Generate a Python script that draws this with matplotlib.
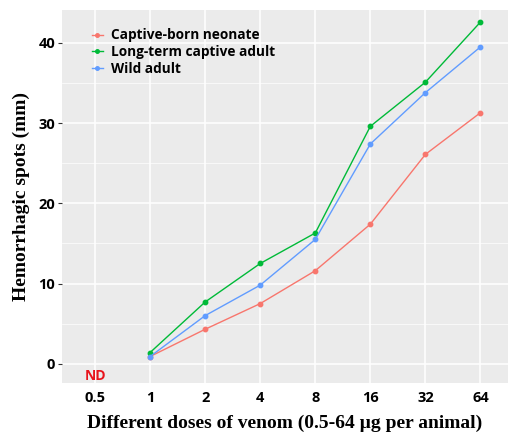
import matplotlib
matplotlib.use("Agg")
import matplotlib.pyplot as plt
from matplotlib.ticker import MultipleLocator

doses = ["0.5", "1", "2", "4", "8", "16", "32", "64"]
dose_idx_present = [1, 2, 3, 4, 5, 6, 7]  # 0.5 not detected
neonate = [0.9, 4.3, 7.5, 11.6, 17.4, 26.1, 31.3]
longterm = [1.4, 7.7, 12.5, 16.3, 29.6, 35.1, 42.6]
wild = [0.9, 6.0, 9.8, 15.5, 27.4, 33.8, 39.5]
series_names = ["Captive-born neonate", "Long-term captive adult", "Wild adult"]
colors = ["#F8766D", "#00BA38", "#619CFF"]

fig = plt.figure(figsize=(5.09, 4.36), dpi=100)
ax = fig.add_axes([62/509, 1-383/436, 446/509, 373/436])
ax.set_facecolor("#EBEBEB")

for vals, name, c in zip([neonate, longterm, wild], series_names, colors):
    ax.plot(dose_idx_present, vals, color=c, lw=1.0, marker="o", ms=3.2, label=name)

ax.set_xlim(-0.6, 7.5)
ax.set_ylim(-2.4, 44.1)
ax.set_xticks(range(len(doses)))
ax.set_xticklabels(doses)
ax.yaxis.set_major_locator(MultipleLocator(10))
ax.yaxis.set_minor_locator(MultipleLocator(5))
ax.grid(which="major", color="white", lw=1.1)
ax.grid(which="minor", axis="y", color="white", lw=0.5)
ax.set_axisbelow(True)
for s in ax.spines.values():
    s.set_visible(False)
ax.tick_params(axis="both", which="major", length=3, color="#333333", labelsize=10.5, pad=2)
ax.tick_params(axis="y", which="minor", length=0)
ax.tick_params(axis="x", length=0, pad=6)
for lab in ax.get_xticklabels() + ax.get_yticklabels():
    lab.set_fontweight("bold")
    lab.set_fontfamily("Open Sans")

ax.text(0, -1.55, "ND", color="#E8141C", fontsize=10, fontweight="bold",
        ha="center", va="center", family="Open Sans")

ax.set_xlabel("Different doses of venom (0.5-64 \u00b5g per animal)", family="Liberation Serif",
              fontweight="bold", fontsize=14, labelpad=7)
ax.set_ylabel("Hemorrhagic spots (mm)", family="Liberation Serif",
              fontweight="bold", fontsize=14, labelpad=6)

leg = ax.legend(loc="upper left", bbox_to_anchor=(0.055, 0.965), frameon=False,
                prop={"family": "Open Sans", "weight": "bold", "size": 9.8},
                handlelength=0.8, handletextpad=0.6, labelspacing=0.2, borderaxespad=0,
                markerscale=0.8)

fig.savefig("out.png", dpi=100)
